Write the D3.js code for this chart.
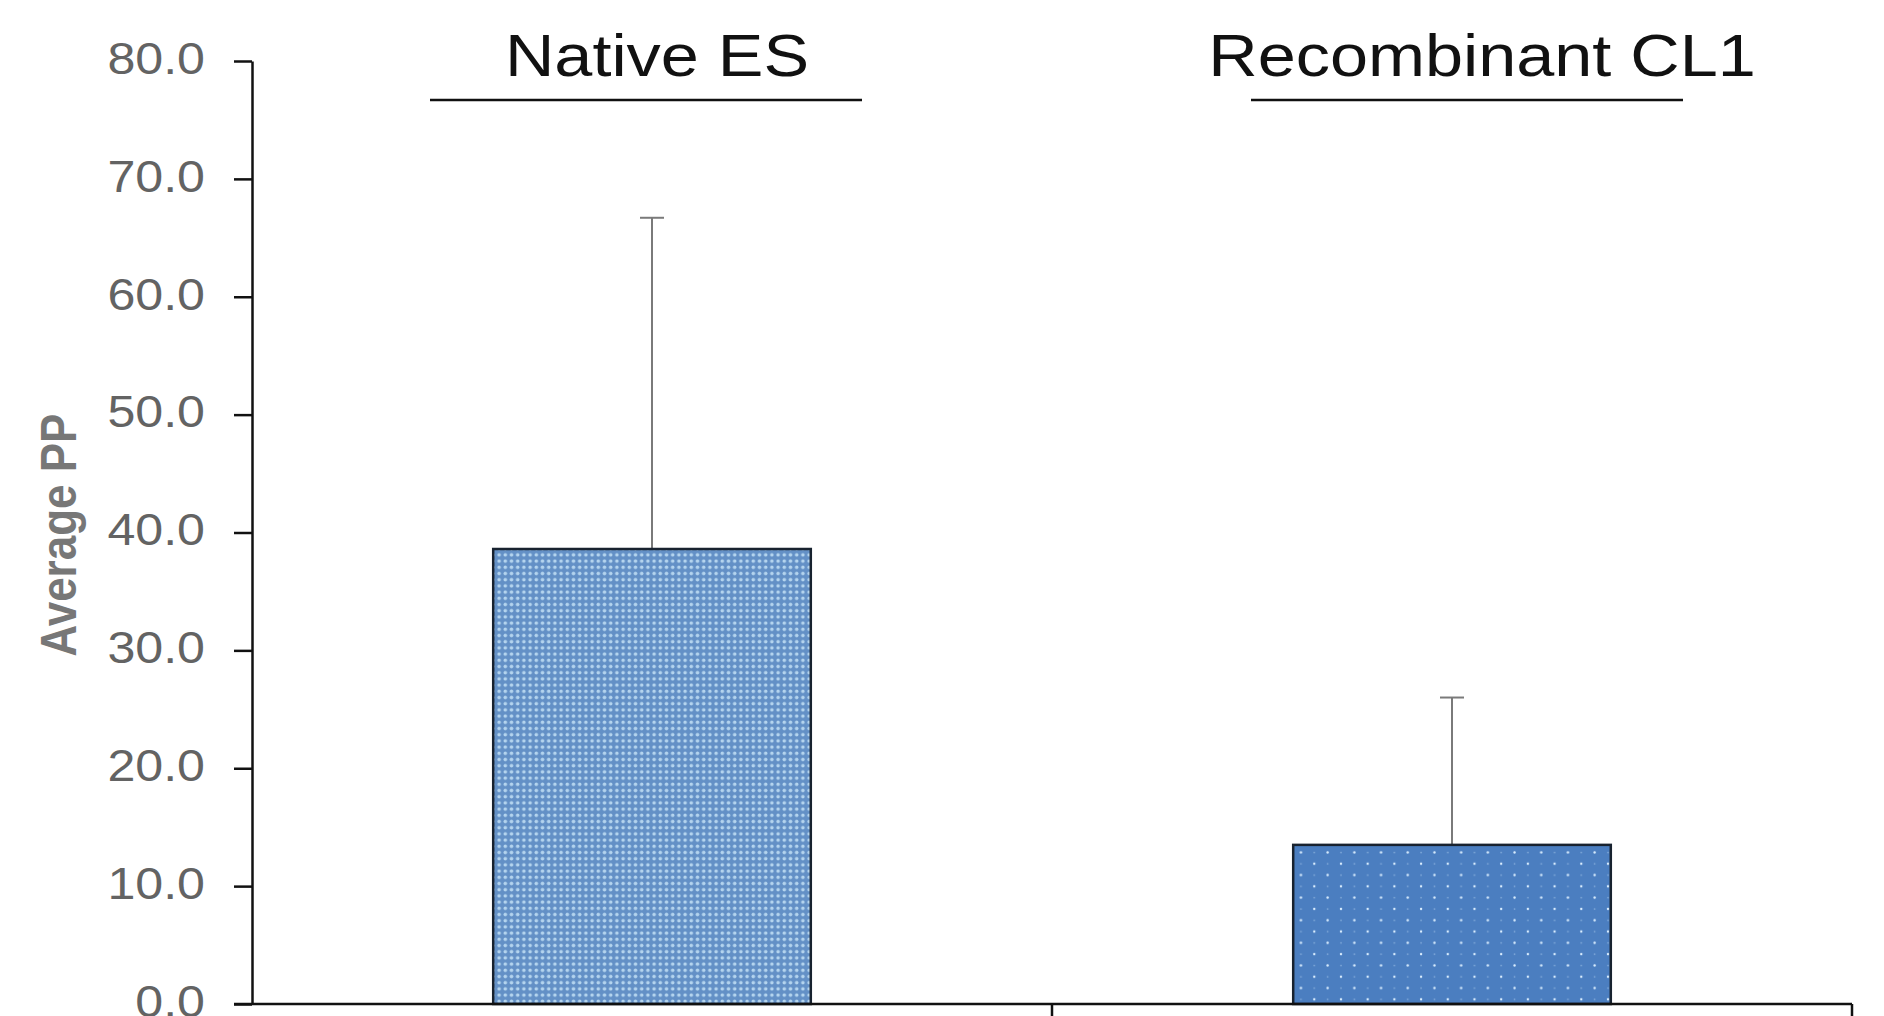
<!DOCTYPE html>
<html>
<head>
<meta charset="utf-8">
<script src="https://cdn.jsdelivr.net/npm/d3@7"></script>
<style>
  body { margin: 0; background: #fff; }
  text { font-family: Arial, "Liberation Sans", sans-serif; }
</style>
</head>
<body>
<div id="chart"></div>
<script>
// chart values
var categories = ["Native ES", "Recombinant CL1"];
var averages = [38.6, 13.5];
var sdUpper = [28.1, 12.5];
var yTicks = [0, 10, 20, 30, 40, 50, 60, 70, 80];
var yLabel = "Average PP";

var w = 1884, h = 1016;
var stretch = 1.14; // the picture is a little wider than tall

var svg = d3.select("#chart")
    .append("svg")
    .attr("width", w)
    .attr("height", h);

var x = d3.scaleBand().domain(categories).range([252, 1852]).padding(0);
var y = d3.scaleLinear().domain([0, 80]).range([1004, 61]);

// fill patterns
var defs = svg.append("defs");
var p1 = defs.append("pattern")
    .attr("id", "dots1")
    .attr("patternUnits", "userSpaceOnUse")
    .attr("width", 6.2).attr("height", 6.2);
p1.append("rect").attr("width", 6.2).attr("height", 6.2).attr("fill", "#6390c6");
p1.append("circle").attr("cx", 3.1).attr("cy", 3.1).attr("r", 1.8).attr("fill", "#b4d4ee");

var p2 = defs.append("pattern")
    .attr("id", "dots2")
    .attr("patternUnits", "userSpaceOnUse")
    .attr("width", 26.7).attr("height", 22.6);
p2.append("rect").attr("width", 26.7).attr("height", 22.6).attr("fill", "#4b7ec0");
p2.append("circle").attr("cx", 6).attr("cy", 5).attr("r", 1.2).attr("fill", "#dcefff");
p2.append("circle").attr("cx", 19.35).attr("cy", 16.3).attr("r", 1.2).attr("fill", "#dcefff");
p2.append("circle").attr("cx", 19.35).attr("cy", 5).attr("r", 0.9).attr("fill", "#7fa8d8");
p2.append("circle").attr("cx", 6).attr("cy", 16.3).attr("r", 0.9).attr("fill", "#7fa8d8");
var fills = ["url(#dots1)", "url(#dots2)"];

var barW = x.bandwidth() * 0.397;

// error bars (upper only)
var err = svg.append("g");
categories.forEach(function(c, i) {
    var cx = x(c) + x.bandwidth() / 2;
    err.append("line")
        .attr("x1", cx).attr("x2", cx)
        .attr("y1", y(averages[i])).attr("y2", y(averages[i] + sdUpper[i]))
        .attr("stroke", "#7a7a7a").attr("stroke-width", 2);
    err.append("line")
        .attr("x1", cx - 12).attr("x2", cx + 12)
        .attr("y1", y(averages[i] + sdUpper[i])).attr("y2", y(averages[i] + sdUpper[i]))
        .attr("stroke", "#7a7a7a").attr("stroke-width", 2);
});

svg.selectAll(".bar")
    .data(categories)
    .enter()
    .append("rect")
    .attr("class", "bar")
    .attr("x", function(d) { return x(d) + x.bandwidth() / 2 - barW / 2; })
    .attr("y", function(d, i) { return y(averages[i]); })
    .attr("width", barW)
    .attr("height", function(d, i) { return y(0) - y(averages[i]); })
    .attr("fill", function(d, i) { return fills[i]; })
    .attr("stroke", "#18222f")
    .attr("stroke-width", 2.5);

// y axis
var yAxis = svg.append("g")
    .attr("transform", "translate(252,0)")
    .call(d3.axisLeft(y).tickValues(yTicks).tickFormat(d3.format(".1f")).tickSize(18).tickSizeOuter(0));
yAxis.select(".domain").attr("stroke", "#111").attr("stroke-width", 2.5);
yAxis.selectAll(".tick line").attr("stroke", "#111").attr("stroke-width", 2.5);
yAxis.selectAll(".tick text")
    .attr("x", 0)
    .attr("dy", "0.28em")
    .attr("transform", "translate(-47,0) scale(" + stretch + ",1)")
    .attr("font-size", 44)
    .attr("fill", "#636363");
yAxis.attr("font-family", null);

// x axis with ticks between the categories
var xAxis = svg.append("g");
xAxis.append("line")
    .attr("x1", 234).attr("x2", x.range()[1])
    .attr("y1", y(0)).attr("y2", y(0))
    .attr("stroke", "#111").attr("stroke-width", 2.5);
categories.forEach(function(c) {
    var bx = x(c) + x.bandwidth();
    xAxis.append("line")
        .attr("x1", bx).attr("x2", bx)
        .attr("y1", y(0)).attr("y2", y(0) + 18)
        .attr("stroke", "#111").attr("stroke-width", 2.5);
});

// group titles with underline
var titleDx = [5, 30];
var lineDx = [-6, 15];
categories.forEach(function(c, i) {
    var cx = x(c) + x.bandwidth() / 2;
    svg.append("text")
        .attr("transform", "translate(" + (cx + titleDx[i]) + ",76) scale(" + stretch + ",1)")
        .attr("text-anchor", "middle")
        .attr("font-size", 60)
        .attr("fill", "#111")
        .text(c);
    svg.append("line")
        .attr("x1", cx + lineDx[i] - 216).attr("x2", cx + lineDx[i] + 216)
        .attr("y1", 100).attr("y2", 100)
        .attr("stroke", "#111").attr("stroke-width", 2.5);
});

svg.append("text")
    .attr("transform", "translate(76,535) scale(" + stretch + ",1) rotate(-90)")
    .attr("text-anchor", "middle")
    .attr("font-size", 44)
    .attr("font-weight", "bold")
    .attr("fill", "#777")
    .text(yLabel);
</script>
</body>
</html>
